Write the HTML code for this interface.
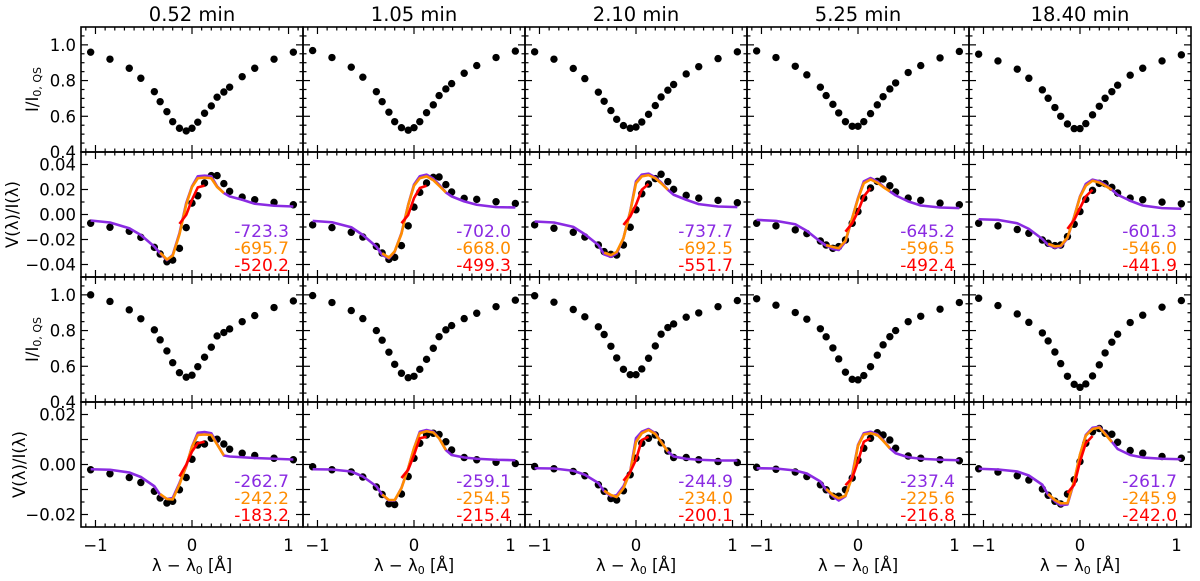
<!DOCTYPE html>
<html><head><meta charset="utf-8"><style>
html,body{margin:0;padding:0;background:#fff;}
svg{display:block;font-family:"DejaVu Sans","Liberation Sans",sans-serif;}
</style></head><body>
<svg id="fig" width="1200" height="581" viewBox="0 0 1200 581" xmlns="http://www.w3.org/2000/svg"></svg>
<script>
const waves=[-1.05,-0.85,-0.65,-0.53,-0.39,-0.33,-0.26,-0.2,-0.13,-0.06,0,0.06,0.13,0.2,0.26,0.33,0.39,0.52,0.65,0.85,1.05];
const titles=["0.52 min","1.05 min","2.10 min","5.25 min","18.40 min"];
const iTop=[
[0.959,0.92,0.869,0.813,0.738,0.682,0.626,0.57,0.533,0.518,0.533,0.567,0.617,0.658,0.707,0.736,0.763,0.822,0.869,0.92,0.959],
[0.968,0.929,0.875,0.819,0.738,0.682,0.623,0.57,0.536,0.522,0.536,0.57,0.62,0.664,0.716,0.753,0.783,0.841,0.884,0.929,0.965],
[0.961,0.92,0.868,0.811,0.735,0.684,0.632,0.583,0.548,0.533,0.54,0.568,0.611,0.66,0.708,0.746,0.778,0.837,0.878,0.923,0.961],
[0.966,0.929,0.88,0.832,0.763,0.716,0.667,0.619,0.57,0.544,0.544,0.57,0.615,0.664,0.71,0.753,0.787,0.845,0.884,0.927,0.963],
[0.948,0.91,0.864,0.813,0.748,0.701,0.649,0.6,0.557,0.531,0.531,0.559,0.608,0.656,0.701,0.738,0.774,0.83,0.869,0.91,0.944]];
const iBot=[
[1.0,0.963,0.916,0.866,0.804,0.748,0.686,0.62,0.564,0.539,0.55,0.598,0.651,0.707,0.77,0.789,0.809,0.85,0.884,0.929,0.966],
[0.996,0.957,0.912,0.867,0.8,0.746,0.679,0.611,0.561,0.536,0.544,0.583,0.639,0.701,0.766,0.804,0.828,0.867,0.897,0.934,0.97],
[0.995,0.959,0.918,0.877,0.821,0.778,0.712,0.647,0.583,0.553,0.553,0.585,0.645,0.714,0.78,0.817,0.837,0.875,0.899,0.934,0.968],
[0.978,0.942,0.901,0.864,0.81,0.765,0.703,0.641,0.567,0.527,0.524,0.548,0.598,0.662,0.72,0.766,0.8,0.85,0.88,0.92,0.957],
[0.981,0.94,0.893,0.846,0.787,0.742,0.68,0.615,0.544,0.499,0.482,0.501,0.546,0.608,0.675,0.735,0.78,0.845,0.886,0.931,0.968]];
const vTopObs=[
[-0.007,-0.0102,-0.0134,-0.0183,-0.0263,-0.0316,-0.0378,-0.0365,-0.0271,-0.0105,0.0091,0.015,0.0252,0.0311,0.0311,0.0247,0.0185,0.0139,0.0118,0.0097,0.0078],
[-0.0083,-0.0105,-0.0142,-0.018,-0.0255,-0.0308,-0.0359,-0.0343,-0.0249,-0.0091,0.0059,0.0177,0.0252,0.0297,0.03,0.0239,0.018,0.0129,0.0121,0.0102,0.0088],
[-0.0083,-0.011,-0.0142,-0.018,-0.0244,-0.0297,-0.0319,-0.0324,-0.0244,-0.0102,0.0038,0.0166,0.0244,0.0287,0.0322,0.0263,0.0201,0.0153,0.0131,0.0113,0.0094],
[-0.007,-0.0091,-0.0123,-0.0153,-0.0212,-0.0244,-0.0271,-0.0257,-0.0204,-0.007,0.0024,0.0131,0.0212,0.0265,0.0284,0.023,0.018,0.0131,0.0113,0.0091,0.0078],
[-0.007,-0.0091,-0.012,-0.015,-0.0204,-0.023,-0.0249,-0.0244,-0.0177,-0.0078,0.0024,0.0121,0.0193,0.0249,0.0247,0.0217,0.0172,0.0131,0.0118,0.0099,0.0086]];
const vTopPurple=[
[-0.0048,-0.0064,-0.011,-0.0164,-0.0257,-0.0311,-0.0365,-0.0324,-0.015,0.0091,0.0225,0.0306,0.0311,0.0306,0.0225,0.0172,0.0145,0.0118,0.0086,0.007,0.0064],
[-0.0051,-0.0062,-0.0102,-0.0164,-0.0257,-0.0324,-0.0351,-0.0297,-0.015,0.0078,0.0239,0.0306,0.0319,0.0287,0.0239,0.0177,0.0145,0.0105,0.0078,0.0059,0.0056],
[-0.0056,-0.0064,-0.0099,-0.0158,-0.0244,-0.0319,-0.0338,-0.0311,-0.019,0.0024,0.0265,0.0319,0.0327,0.0297,0.0257,0.0198,0.0158,0.0118,0.0083,0.0064,0.0059],
[-0.0043,-0.0051,-0.0078,-0.0131,-0.0217,-0.0249,-0.0276,-0.0284,-0.0217,-0.0029,0.0131,0.0265,0.0292,0.0265,0.0225,0.0185,0.0153,0.0105,0.0072,0.0056,0.0051],
[-0.0038,-0.0043,-0.007,-0.0115,-0.0196,-0.0244,-0.0265,-0.0257,-0.019,-0.0016,0.0145,0.0244,0.0279,0.0265,0.0239,0.0198,0.0158,0.011,0.0072,0.0051,0.0046]];
const vTopOrange=[
[-0.0305,-0.036,-0.033,-0.016,0.008,0.022,0.029,0.0295,0.029,0.022,0.0172],
[-0.031,-0.0345,-0.0295,-0.0155,0.0075,0.023,0.029,0.0305,0.0275,0.023,0.0177],
[-0.0305,-0.0325,-0.030,-0.019,0.002,0.025,0.0305,0.0315,0.029,0.025,0.0198],
[-0.0245,-0.026,-0.027,-0.021,-0.003,0.0125,0.025,0.028,0.0255,0.022,0.0185],
[-0.0235,-0.0255,-0.025,-0.0185,-0.002,0.014,0.023,0.027,0.0255,0.023,0.0198]];
const vTopRed=[
[-0.0075,-0.0003,0.0118,0.0217,0.0231],
[-0.007,-0.0003,0.0131,0.0212,0.023],
[-0.0083,-0.0016,0.0078,0.0198,0.0244],
[-0.0137,-0.007,0.0024,0.0145,0.0212],
[-0.0115,-0.0043,0.0051,0.0145,0.0198]];
const vBotObs=[
[-0.0021,-0.0037,-0.0052,-0.0072,-0.0107,-0.0134,-0.0154,-0.0147,-0.0101,-0.0052,0.0021,0.0078,0.0082,0.0105,0.0101,0.0082,0.0061,0.0045,0.0036,0.0025,0.0019],
[-0.0009,-0.0021,-0.003,-0.005,-0.009,-0.012,-0.0157,-0.016,-0.0118,-0.0048,0.0025,0.0085,0.0118,0.0125,0.012,0.0091,0.0058,0.0028,0.0019,0.0009,0.0004],
[-0.0008,-0.0017,-0.0028,-0.0045,-0.0081,-0.0107,-0.0136,-0.0142,-0.0105,-0.0041,0.0025,0.0085,0.0105,0.0118,0.0087,0.0054,0.0028,0.0028,0.0019,0.0012,0.0008],
[-0.0011,-0.0019,-0.003,-0.0048,-0.0081,-0.0101,-0.0127,-0.0127,-0.0101,-0.0054,0.0017,0.0065,0.0105,0.0127,0.0118,0.0098,0.0065,0.0034,0.0025,0.0019,0.0015],
[-0.0017,-0.003,-0.0045,-0.0062,-0.0098,-0.0123,-0.0147,-0.0158,-0.0118,-0.0061,0.0012,0.0085,0.0131,0.0144,0.0125,0.0121,0.0089,0.0056,0.0045,0.0032,0.0025]];
const vBotPurple=[
[-0.0019,-0.0021,-0.0032,-0.005,-0.0087,-0.0121,-0.0138,-0.0134,-0.0074,-0.0008,0.0072,0.0127,0.013,0.0125,0.0082,0.0036,0.0032,0.0029,0.0026,0.0023,0.002],
[-0.0019,-0.002,-0.0028,-0.0048,-0.0087,-0.0121,-0.0144,-0.0144,-0.0094,-0.0015,0.0065,0.0131,0.0138,0.0131,0.0105,0.0058,0.0038,0.0028,0.0023,0.0019,0.0017],
[-0.0015,-0.0016,-0.0025,-0.0041,-0.0074,-0.0107,-0.0127,-0.0123,-0.0087,-0.0028,0.0105,0.0131,0.0142,0.0125,0.0091,0.0052,0.0032,0.0023,0.0019,0.0016,0.0016],
[-0.0015,-0.0016,-0.0024,-0.0036,-0.0068,-0.0101,-0.0127,-0.0144,-0.0127,-0.0041,0.0078,0.0125,0.0131,0.0121,0.0098,0.0065,0.0045,0.0029,0.0023,0.0019,0.0017],
[-0.0017,-0.002,-0.0028,-0.0044,-0.0081,-0.0121,-0.0147,-0.0163,-0.016,-0.0068,0.0038,0.0118,0.0147,0.0151,0.0125,0.0091,0.0062,0.0038,0.0028,0.0023,0.0021]];
const vBotOrange=[
[-0.0118,-0.0138,-0.014,-0.008,-0.0005,0.007,0.0118,0.012,0.0118,0.008,0.0036],
[-0.012,-0.0142,-0.0142,-0.0095,-0.0015,0.0065,0.0125,0.0133,0.0128,0.0105,0.0058],
[-0.0105,-0.0122,-0.013,-0.0095,-0.003,0.009,0.0125,0.0138,0.0122,0.009,0.0052],
[-0.0098,-0.0122,-0.0135,-0.0125,-0.005,0.0075,0.012,0.0125,0.0118,0.0095,0.0065],
[-0.0118,-0.0142,-0.0155,-0.0155,-0.0065,0.004,0.0115,0.0142,0.0148,0.0122,0.009]];
const vBotRed=[
[-0.0048,-0.0001,0.0052,0.0085,0.0091],
[-0.0054,-0.0021,0.0038,0.0105,0.0111],
[-0.0065,-0.003,0.0019,0.0098,0.0111],
[-0.0083,-0.0054,0.0012,0.0091,0.0105],
[-0.0114,-0.0081,0.0012,0.0085,0.0114]];
const annTop=[["-723.3","-695.7","-520.2"],["-702.0","-668.0","-499.3"],["-737.7","-692.5","-551.7"],["-645.2","-596.5","-492.4"],["-601.3","-546.0","-441.9"]];
const annBot=[["-262.7","-242.2","-183.2"],["-259.1","-254.5","-215.4"],["-244.9","-234.0","-200.1"],["-237.4","-225.6","-216.8"],["-261.7","-245.9","-242.0"]];
const iTicks=["0.4","0.6","0.8","1.0"];
const vTopTicks=["−0.04","−0.02","0.00","0.02","0.04"];
const vBotTicks=["−0.02","0.00","0.02"];
const xTicks=["−1","0","1"];

const NS="http://www.w3.org/2000/svg";
const svg=document.getElementById('fig');
const colL=[81,303,525,747,969], colW=222;
const rowT=[27,152,277,402], rowH=125;
const XMIN=-1.15,XMAX=1.15;
const ylims=[[0.4,1.1],[-0.05,0.05],[0.4,1.1],[-0.025,0.025]];
const PUR="#8a2be2",ORA="#ff8c00",RED="#ff0000";
function mk(tag,attrs,parent){const e=document.createElementNS(NS,tag);for(const k in attrs)e.setAttribute(k,attrs[k]);(parent||svg).appendChild(e);return e;}
function xs(c,v){return colL[c]+(v-XMIN)/(XMAX-XMIN)*colW;}
function ys(r,v){const [a,b]=ylims[r];return rowT[r]+rowH-(v-a)/(b-a)*rowH;}

function drawLine(g,c,r,idx0,vals,color,name){
  let d="";
  vals.forEach((v,k)=>{d+=(k?"L":"M")+xs(c,waves[idx0+k]).toFixed(2)+" "+ys(r,v).toFixed(2);});
  const p=mk('path',{d:d,fill:'none',stroke:color,'stroke-width':2.6,'stroke-linejoin':'round'},g);
  
  
}
function drawPts(g,c,r,vals,name){
  vals.forEach((v,k)=>{
    const e=mk('circle',{cx:xs(c,waves[k]).toFixed(2),cy:ys(r,v).toFixed(2),r:3.7,fill:'#000'},g);
    
    
  });
}
function ticksY(g,c,r,major,minor){
  const [a,b]=ylims[r];const x0=colL[c],x1=colL[c]+colW;
  const eps=1e-9;
  for(let v=Math.ceil(a/minor-eps)*minor;v<=b+eps;v+=minor){
    const isMaj=Math.abs(v/major-Math.round(v/major))<1e-6;const L=isMaj?7:3.5;const y=ys(r,v);
    if(y<rowT[r]+0.5||y>rowT[r]+rowH-0.5)continue;
    mk('line',{x1:x0,y1:y,x2:x0+L,y2:y,stroke:'#000','stroke-width':1.2},g);
    mk('line',{x1:x1,y1:y,x2:x1-L,y2:y,stroke:'#000','stroke-width':1.2},g);
  }
}
function ticksX(g,c,r){
  const y0=rowT[r],y1=rowT[r]+rowH;
  for(let i=-11;i<=11;i++){const v=i/10;const isMaj=(i%10===0);const L=isMaj?7:3.5;const x=xs(c,v);
    mk('line',{x1:x,y1:y0,x2:x,y2:y0+L,stroke:'#000','stroke-width':1.2},g);
    mk('line',{x1:x,y1:y1,x2:x,y2:y1-L,stroke:'#000','stroke-width':1.2},g);}
}
function txt(g,x,y,s,opts){const t=mk('text',Object.assign({x:x,y:y,'font-size':16.5,fill:'#000'},opts||{}),g);t.textContent=s;return t;}

for(let c=0;c<5;c++){
  const t=txt(svg,colL[c]+colW/2,21,titles[c],{'text-anchor':'middle','font-size':19.5});
  
  
  for(let r=0;r<4;r++){
    const g=mk('g',{});
    
    
    if(r===0)drawPts(g,c,r,iTop[c],'intensity-point');
    if(r===2)drawPts(g,c,r,iBot[c],'intensity-point');
    if(r===1||r===3){
      const obs=r===1?vTopObs:vBotObs,pur=r===1?vTopPurple:vBotPurple,ora=r===1?vTopOrange:vBotOrange,red=r===1?vTopRed:vBotRed,ann=r===1?annTop:annBot;
      drawPts(g,c,r,obs[c],'stokes-v-point');
      drawLine(g,c,r,0,pur[c],PUR,'fit-line-purple');
      drawLine(g,c,r,5,ora[c],ORA,'fit-line-orange');
      drawLine(g,c,r,8,red[c],RED,'fit-line-red');
      const cols=[PUR,ORA,RED];
      for(let k=0;k<3;k++){const a=txt(g,colL[c]+colW-14,rowT[r]+85+k*17,ann[c][k],{'text-anchor':'end',fill:cols[k],'font-size':17});
        
        }
    }
    if(r===0||r===2)ticksY(g,c,r,0.2,0.05);
    if(r===1)ticksY(g,c,r,0.02,0.01);
    if(r===3)ticksY(g,c,r,0.01,0.005);
    ticksX(g,c,r);
    const fr=mk('rect',{x:colL[c],y:rowT[r],width:colW,height:rowH,fill:'none',stroke:'#000','stroke-width':1.6},g);
    
    
    if(c===0){
      const labs=r===1?vTopTicks:r===3?vBotTicks:iTicks;
      labs.forEach(s=>{const v=parseFloat(s.replace('−','-'));const tl=txt(g,colL[0]-5,ys(r,v)+6,s,{'text-anchor':'end'});
        
        });
    }
    if(r===3){
      xTicks.forEach(s=>{const v=parseFloat(s.replace('−','-'));const tl=txt(g,xs(c,v),551,s,{'text-anchor':'middle'});
        
        });
      const xl=mk('text',{x:colL[c]+colW/2,y:571,'font-size':16.5,'text-anchor':'middle'},g);
      xl.innerHTML='λ − λ<tspan font-size="11" dy="3">0</tspan><tspan dy="-3"> [Å]</tspan>';
      
      
    }
  }
}
[0,2].forEach(r=>{
  const cy=rowT[r]+rowH/2;
  const t=mk('text',{x:0,y:0,'font-size':16.5,'text-anchor':'middle',transform:`translate(38,${cy}) rotate(-90)`});
  t.innerHTML='I/I<tspan font-size="11" dy="3">0, QS</tspan>';
  
  
});
[1,3].forEach(r=>{
  const cy=rowT[r]+rowH/2;
  const t=mk('text',{x:0,y:0,'font-size':16.5,'text-anchor':'middle',transform:`translate(${r===1?18:25},${cy}) rotate(-90)`});
  t.textContent='V(λ)/I(λ)';
  
  
});
</script>
</body></html>
